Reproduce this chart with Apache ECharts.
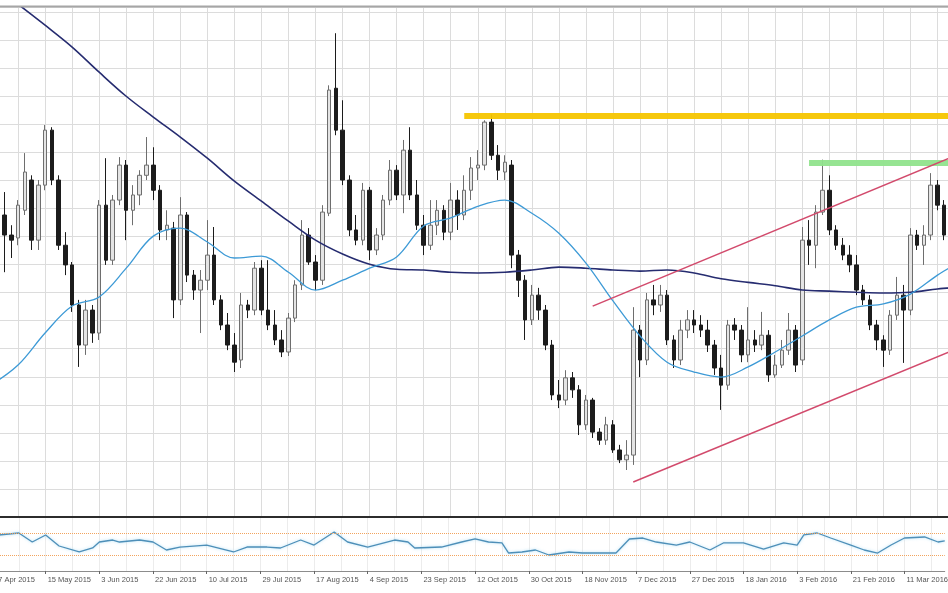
<!DOCTYPE html>
<html>
<head>
<meta charset="utf-8">
<script src="https://cdn.jsdelivr.net/npm/echarts@6/dist/echarts.min.js"></script>
<style>
html,body{margin:0;padding:0;background:#fff;width:948px;height:593px;overflow:hidden;position:relative}
#c{position:absolute;left:-9.06px;top:0;width:959.66px;height:593px}
</style>
</head>
<body>
<div id="c"></div>
<script>
// date labels shown every 8 bars
const tickLabels = ['27 Apr 2015','15 May 2015','3 Jun 2015','22 Jun 2015','10 Jul 2015','29 Jul 2015','17 Aug 2015','4 Sep 2015','23 Sep 2015','12 Oct 2015','30 Oct 2015','18 Nov 2015','7 Dec 2015','27 Dec 2015','18 Jan 2016','3 Feb 2016','21 Feb 2016','11 Mar 2016'];

// [open, close, low, high]
const candles = [
[1.1128,1.1169,1.1100,1.1196],[1.1169,1.1224,1.1128,1.1279],[1.1224,1.1169,1.1067,1.1287],[1.1169,1.1155,1.1106,1.1196],
[1.1161,1.1251,1.1141,1.1265],[1.1237,1.1342,1.1224,1.1394],[1.1320,1.1155,1.1128,1.1333],[1.1155,1.1306,1.1128,1.1320],
[1.1306,1.1457,1.1292,1.1471],[1.1457,1.1320,1.1306,1.1465],[1.1320,1.1141,1.1128,1.1333],[1.1141,1.1087,1.1059,1.1177],
[1.1087,1.0977,1.0958,1.1095],[1.0977,1.0867,1.0807,1.0991],[1.0867,1.0963,1.0840,1.0991],[1.0963,1.0900,1.0873,1.0977],
[1.0900,1.1251,1.0881,1.1265],[1.1251,1.1100,1.1087,1.1380],[1.1100,1.1265,1.1087,1.1279],[1.1265,1.1361,1.1251,1.1383],
[1.1361,1.1237,1.1155,1.1375],[1.1237,1.1279,1.1196,1.1306],[1.1279,1.1333,1.1251,1.1347],[1.1333,1.1361,1.1320,1.1438],
[1.1361,1.1292,1.1265,1.1410],[1.1292,1.1183,1.1155,1.1306],[1.1183,1.1196,1.1155,1.1237],[1.1188,1.0991,1.0941,1.1205],
[1.0991,1.1224,1.0977,1.1273],[1.1224,1.1059,1.1040,1.1232],[1.1059,1.1018,1.0991,1.1073],[1.1018,1.1045,1.0900,1.1073],
[1.1045,1.1114,1.1018,1.1210],[1.1114,1.0991,1.0977,1.1191],[1.0991,1.0922,1.0908,1.1004],[1.0922,1.0867,1.0853,1.0955],
[1.0867,1.0820,1.0793,1.0900],[1.0826,1.0977,1.0804,1.1010],[1.0977,1.0963,1.0941,1.0991],[1.0963,1.1078,1.0949,1.1095],
[1.1078,1.0963,1.0949,1.1100],[1.0963,1.0922,1.0908,1.1100],[1.0922,1.0881,1.0867,1.0963],[1.0881,1.0848,1.0834,1.0908],
[1.0848,1.0941,1.0837,1.0955],[1.0941,1.1032,1.0930,1.1045],[1.1032,1.1169,1.1018,1.1210],[1.1169,1.1095,1.1087,1.1188],
[1.1095,1.1045,1.1018,1.1114],[1.1045,1.1232,1.1032,1.1251],[1.1229,1.1567,1.1221,1.1580],[1.1572,1.1457,1.1443,1.1723],
[1.1457,1.1320,1.1306,1.1539],[1.1320,1.1183,1.1166,1.1333],[1.1183,1.1155,1.1141,1.1224],[1.1155,1.1292,1.1141,1.1312],
[1.1292,1.1128,1.1100,1.1301],[1.1128,1.1169,1.1114,1.1188],[1.1169,1.1265,1.1155,1.1279],[1.1265,1.1347,1.1251,1.1375],
[1.1347,1.1279,1.1265,1.1361],[1.1279,1.1402,1.1229,1.1430],[1.1402,1.1279,1.1265,1.1465],[1.1279,1.1196,1.1183,1.1320],
[1.1196,1.1141,1.1114,1.1224],[1.1141,1.1196,1.1128,1.1265],[1.1196,1.1237,1.1169,1.1265],[1.1237,1.1177,1.1155,1.1251],
[1.1177,1.1265,1.1155,1.1312],[1.1265,1.1224,1.1183,1.1292],[1.1224,1.1292,1.1210,1.1333],[1.1292,1.1353,1.1265,1.1383],
[1.1353,1.1361,1.1320,1.1402],[1.1361,1.1479,1.1347,1.1484],[1.1479,1.1388,1.1375,1.1500],[1.1388,1.1347,1.1320,1.1416],
[1.1342,1.1369,1.1320,1.1388],[1.1361,1.1114,1.1078,1.1375],[1.1114,1.1045,1.0999,1.1128],[1.1045,1.0936,1.0881,1.1059],
[1.0936,1.1004,1.0922,1.1032],[1.1004,1.0963,1.0936,1.1024],[1.0963,1.0867,1.0853,1.0977],[1.0867,1.0730,1.0716,1.0881],
[1.0730,1.0716,1.0694,1.0771],[1.0716,1.0777,1.0702,1.0798],[1.0777,1.0744,1.0722,1.0793],[1.0744,1.0648,1.0620,1.0757],
[1.0648,1.0716,1.0634,1.0730],[1.0716,1.0628,1.0612,1.0722],[1.0628,1.0606,1.0593,1.0639],[1.0606,1.0648,1.0593,1.0670],
[1.0648,1.0579,1.0571,1.0661],[1.0579,1.0552,1.0543,1.0593],[1.0552,1.0565,1.0524,1.0606],[1.0565,1.0908,1.0538,1.0971],
[1.0908,1.0826,1.0779,1.0922],[1.0826,1.0991,1.0812,1.1010],[1.0991,1.0977,1.0949,1.1032],[1.0977,1.1004,1.0958,1.1032],
[1.1004,1.0881,1.0867,1.1018],[1.0881,1.0826,1.0804,1.0894],[1.0826,1.0908,1.0812,1.0936],[1.0908,1.0936,1.0886,1.0963],
[1.0936,1.0922,1.0900,1.0963],[1.0922,1.0908,1.0889,1.0949],[1.0908,1.0867,1.0848,1.0936],[1.0867,1.0804,1.0785,1.0881],
[1.0804,1.0757,1.0689,1.0840],[1.0757,1.0922,1.0744,1.0936],[1.0922,1.0908,1.0881,1.0941],[1.0908,1.0840,1.0820,1.0922],
[1.0840,1.0881,1.0820,1.0971],[1.0881,1.0867,1.0848,1.0908],[1.0867,1.0894,1.0853,1.0958],[1.0894,1.0785,1.0766,1.0908],
[1.0785,1.0812,1.0777,1.0840],[1.0812,1.0853,1.0804,1.0881],[1.0853,1.0908,1.0840,1.0955],[1.0908,1.0812,1.0793,1.0922],
[1.0826,1.1155,1.0812,1.1191],[1.1155,1.1141,1.1087,1.1210],[1.1141,1.1232,1.1078,1.1251],[1.1232,1.1292,1.1224,1.1376],
[1.1292,1.1183,1.1169,1.1333],[1.1183,1.1141,1.1128,1.1196],[1.1141,1.1114,1.1100,1.1161],[1.1114,1.1087,1.1067,1.1141],
[1.1087,1.1018,1.1004,1.1114],[1.1018,1.0991,1.0977,1.1032],[1.0991,1.0922,1.0908,1.1004],[1.0922,1.0881,1.0853,1.0936],
[1.0881,1.0853,1.0807,1.0894],[1.0853,1.0949,1.0840,1.0963],[1.0949,1.1004,1.0936,1.1054],[1.1004,1.0963,1.0818,1.1032],
[1.0963,1.1169,1.0949,1.1188],[1.1169,1.1141,1.1128,1.1183],[1.1141,1.1169,1.1087,1.1196],[1.1169,1.1306,1.1155,1.1339],
[1.1306,1.1251,1.1237,1.1320],[1.1251,1.1169,1.1155,1.1265],[1.1169,1.1141,1.1128,1.1183]
];

// moving averages: [bar index, price]
const fastMA = [[0,1.0757],[4,1.0812],[8,1.0900],[12,1.0974],[16,1.0999],[20,1.1078],[24,1.1166],[28,1.1188],[32,1.1150],[36,1.1106],[40,1.1111],[44,1.1067],[48,1.1018],[52,1.1045],[56,1.1078],[60,1.1109],[64,1.1194],[68,1.1216],[72,1.1248],[76,1.1265],[80,1.1229],[84,1.1174],[88,1.1092],[92,1.0988],[96,1.0892],[100,1.0820],[104,1.0793],[108,1.0779],[112,1.0807],[116,1.0848],[120,1.0892],[124,1.0936],[128,1.0971],[132,1.0980],[136,1.1007],[140,1.1059],[142,1.1081]];
const slowMA = [[0,1.1863],[4,1.1803],[8,1.1745],[12,1.1685],[16,1.1616],[20,1.1550],[24,1.1493],[28,1.1438],[32,1.1380],[36,1.1317],[40,1.1262],[44,1.1207],[48,1.1155],[52,1.1117],[56,1.1089],[60,1.1075],[64,1.1073],[68,1.1067],[72,1.1065],[76,1.1067],[80,1.1073],[84,1.1081],[88,1.1078],[92,1.1073],[96,1.1070],[100,1.1073],[104,1.1065],[108,1.1049],[112,1.1039],[116,1.1030],[120,1.1018],[124,1.1015],[128,1.1012],[132,1.1010],[136,1.1012],[140,1.1021],[142,1.1024]];

// oscillator: [bar index, value]
const rsi = [[0,63.0],[1,66.7],[4,70.4],[6,53.7],[8,66.7],[10,46.3],[13,35.2],[15,42.6],[16,53.7],[18,57.4],[19,53.7],[22,57.4],[24,53.7],[26,38.9],[28,44.4],[32,48.1],[36,35.2],[38,44.4],[41,44.4],[43,42.6],[46,57.4],[48,48.1],[51,72.2],[53,53.7],[56,44.4],[60,57.4],[62,53.7],[63,42.6],[67,44.4],[70,53.7],[72,59.3],[74,53.7],[76,51.9],[77,33.3],[79,35.2],[81,38.9],[83,29.6],[86,35.2],[88,33.3],[91,33.3],[93,33.3],[95,59.3],[97,61.1],[99,53.7],[102,48.1],[104,53.7],[107,38.9],[109,51.9],[112,51.9],[115,40.7],[118,51.9],[120,48.1],[121,66.7],[123,70.4],[125,61.1],[128,48.1],[130,38.9],[132,33.3],[134,48.1],[136,61.1],[139,63.0],[141,53.7],[142,55.6]];
const rsiLevels = [70, 30];

// drawn levels: [start bar, price]
const yellowLevel = [70, 1.1497];
const greenLevel = [121, 1.1367];
// channel lines: [[bar, price], [bar, price]]
const channelUpper = [[89, 1.0974], [142, 1.1382]];
const channelLower = [[95, 1.0491], [142, 1.0850]];

const categories = candles.map((_, i) => String(i));
const lastIdx = categories.length - 1;

const chart = echarts.init(document.getElementById('c'), null, {renderer: 'canvas'});
const gridColor = '#dcdcdc';
const isLabel = (i) => i % 8 === 0;
const isGrid = (i) => i % 4 === 0;

const option = {
  animation: false,
  backgroundColor: '#ffffff',
  grid: [
    {left: 0, right: 0, top: 7, height: 510},
    {left: 0, right: 0, top: 517, height: 54}
  ],
  xAxis: [
    {type: 'category', gridIndex: 0, data: categories, boundaryGap: false,
     axisLine: {show: false}, axisTick: {show: false}, axisLabel: {show: false},
     splitLine: {show: true, interval: (i) => isGrid(i), lineStyle: {color: gridColor, width: 1}}},
    {type: 'category', gridIndex: 1, data: categories, boundaryGap: false,
     axisLine: {show: true, lineStyle: {color: '#8c8c8c', width: 1}},
     axisTick: {show: true, interval: (i) => isLabel(i), length: 3, lineStyle: {color: '#666'}},
     axisLabel: {show: true, interval: (i) => isLabel(i), formatter: (v) => tickLabels[Number(v) / 8] || '',
       align: 'left', padding: [0, 0, 0, 2], fontSize: 7.5, color: '#555', margin: 5, fontFamily: 'Liberation Sans'},
     splitLine: {show: true, interval: (i) => isGrid(i), lineStyle: {color: '#ececec', width: 1}}}
  ],
  yAxis: [
    {type: 'value', gridIndex: 0, min: 1.0395, max: 1.1795, interval: 0.0077,
     axisLine: {show: false}, axisTick: {show: false}, axisLabel: {show: false},
     splitLine: {show: true, lineStyle: {color: gridColor, width: 1}}},
    {type: 'value', gridIndex: 1, min: 0, max: 100,
     axisLine: {show: false}, axisTick: {show: false}, axisLabel: {show: false}, splitLine: {show: false}}
  ],
  series: [
    {type: 'candlestick', xAxisIndex: 0, yAxisIndex: 0, data: candles, barWidth: 4,
     itemStyle: {color: '#e4e4e4', color0: '#1c1c1c', borderColor: '#6e6e6e', borderColor0: '#1c1c1c', borderWidth: 1},
     z: 2,
     markLine: {
       silent: true, symbol: ['none', 'none'], label: {show: false}, animation: false,
       data: [
         [{coord: [yellowLevel[0], yellowLevel[1]], lineStyle: {color: '#f6c500', width: 6, type: 'solid', opacity: 0.95}},
          {coord: [lastIdx, yellowLevel[1]]}],
         [{coord: [greenLevel[0], greenLevel[1]], lineStyle: {color: '#90e38c', width: 6, type: 'solid', opacity: 0.95}},
          {coord: [lastIdx, greenLevel[1]]}],
         [{coord: channelUpper[0], lineStyle: {color: '#d24a6c', width: 1.5, type: 'solid'}}, {coord: channelUpper[1]}],
         [{coord: channelLower[0], lineStyle: {color: '#d24a6c', width: 1.5, type: 'solid'}}, {coord: channelLower[1]}]
       ]
     }},
    {type: 'line', xAxisIndex: 0, yAxisIndex: 0, data: slowMA, smooth: 0.35, symbol: 'none',
     lineStyle: {color: '#262c70', width: 1.6}, z: 3},
    {type: 'line', xAxisIndex: 0, yAxisIndex: 0, data: fastMA, smooth: 0.35, symbol: 'none',
     lineStyle: {color: '#3d9ad6', width: 1.3}, z: 3},
    {type: 'line', xAxisIndex: 1, yAxisIndex: 1, data: rsi, symbol: 'none',
     lineStyle: {color: '#4e8fb8', width: 1.3, shadowColor: 'rgba(120,200,240,0.6)', shadowBlur: 3}, z: 3,
     markLine: {silent: true, symbol: ['none', 'none'], label: {show: false}, animation: false,
       lineStyle: {color: '#f2a45e', type: 'dotted', width: 1},
       data: rsiLevels.map(v => ({yAxis: v}))}}
  ],
  graphic: [
    {type: 'line', shape: {x1: 0, y1: 6.5, x2: 960, y2: 6.5}, style: {stroke: '#a6a6a6', lineWidth: 2}, z: 100},
    {type: 'line', shape: {x1: 0, y1: 517, x2: 960, y2: 517}, style: {stroke: '#2c2c2c', lineWidth: 2}, z: 100}
  ]
};
chart.setOption(option);
</script>
</body>
</html>
